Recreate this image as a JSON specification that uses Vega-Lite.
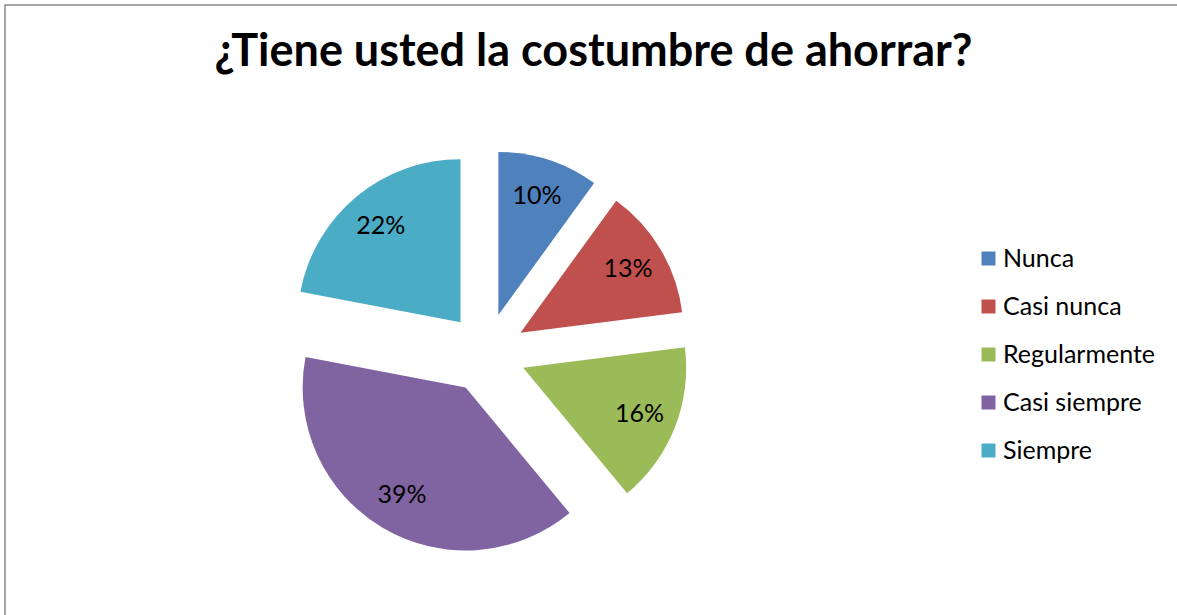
{
  "$schema": "https://vega.github.io/schema/vega-lite/v6.json",
  "autosize": {"type": "none"},
  "padding": {"left": 5, "top": 5, "right": 0, "bottom": 0},
  "width": 1177,
  "height": 615,
  "background": "white",
  "config": {
    "view": {"stroke": "#8a8a8a", "strokeWidth": 1.5},
    "font": "Lato"
  },
  "title": {
    "text": "¿Tiene usted la costumbre de ahorrar?",
    "font": "Lato",
    "fontSize": 45,
    "fontWeight": "bold",
    "color": "#000000",
    "anchor": "middle",
    "frame": "group",
    "baseline": "alphabetic",
    "offset": -63,
    "dy": 43
  },
  "data": {
    "values": [
      {"orden": 1, "respuesta": "Nunca", "valor": 10},
      {"orden": 2, "respuesta": "Casi nunca", "valor": 13},
      {"orden": 3, "respuesta": "Regularmente", "valor": 16},
      {"orden": 4, "respuesta": "Casi siempre", "valor": 39},
      {"orden": 5, "respuesta": "Siempre", "valor": 22}
    ]
  },
  "transform": [
    {"window": [{"op": "sum", "field": "valor", "as": "fin"}], "sort": [{"field": "orden", "order": "ascending"}], "frame": [null, 0]},
    {"calculate": "datum.fin - datum.valor", "as": "inicio"},
    {"calculate": "(datum.inicio + datum.fin) / 2", "as": "medio"},
    {"calculate": "481 + 40 * sin(datum.medio / 100 * 2 * PI)", "as": "cx"},
    {"calculate": "348 - 40 * cos(datum.medio / 100 * 2 * PI)", "as": "cy"},
    {"calculate": "datum.valor + '%'", "as": "etiqueta"}
  ],
  "layer": [
    {
      "mark": {"type": "arc", "outerRadius": 163, "strokeWidth": 0},
      "encoding": {
        "theta": {"field": "inicio", "type": "quantitative", "stack": null, "scale": {"domain": [0, 100]}},
        "theta2": {"field": "fin"},
        "x": {"field": "cx", "type": "quantitative", "scale": null},
        "y": {"field": "cy", "type": "quantitative", "scale": null},
        "color": {
          "field": "respuesta",
          "type": "nominal",
          "sort": ["Nunca", "Casi nunca", "Regularmente", "Casi siempre", "Siempre"],
          "scale": {
            "domain": ["Nunca", "Casi nunca", "Regularmente", "Casi siempre", "Siempre"],
            "range": ["#4F81BD", "#C0504D", "#9BBB59", "#8064A2", "#4BACC6"]
          },
          "legend": {
            "title": null,
            "orient": "none",
            "legendX": 971,
            "legendY": 241,
            "symbolType": "square",
            "symbolSize": 196,
            "symbolStrokeWidth": 0,
            "labelFont": "Lato",
            "labelFontSize": 25,
            "labelColor": "#000000",
            "labelOffset": 2,
            "rowPadding": 22,
            "padding": 0
          }
        }
      }
    },
    {
      "mark": {"type": "text", "radius": 125, "font": "Lato", "fontSize": 25, "color": "#000000", "align": "center", "baseline": "middle"},
      "encoding": {
        "theta": {"field": "medio", "type": "quantitative", "stack": null, "scale": {"domain": [0, 100]}},
        "x": {"field": "cx", "type": "quantitative", "scale": null},
        "y": {"field": "cy", "type": "quantitative", "scale": null},
        "text": {"field": "etiqueta"}
      }
    }
  ]
}
